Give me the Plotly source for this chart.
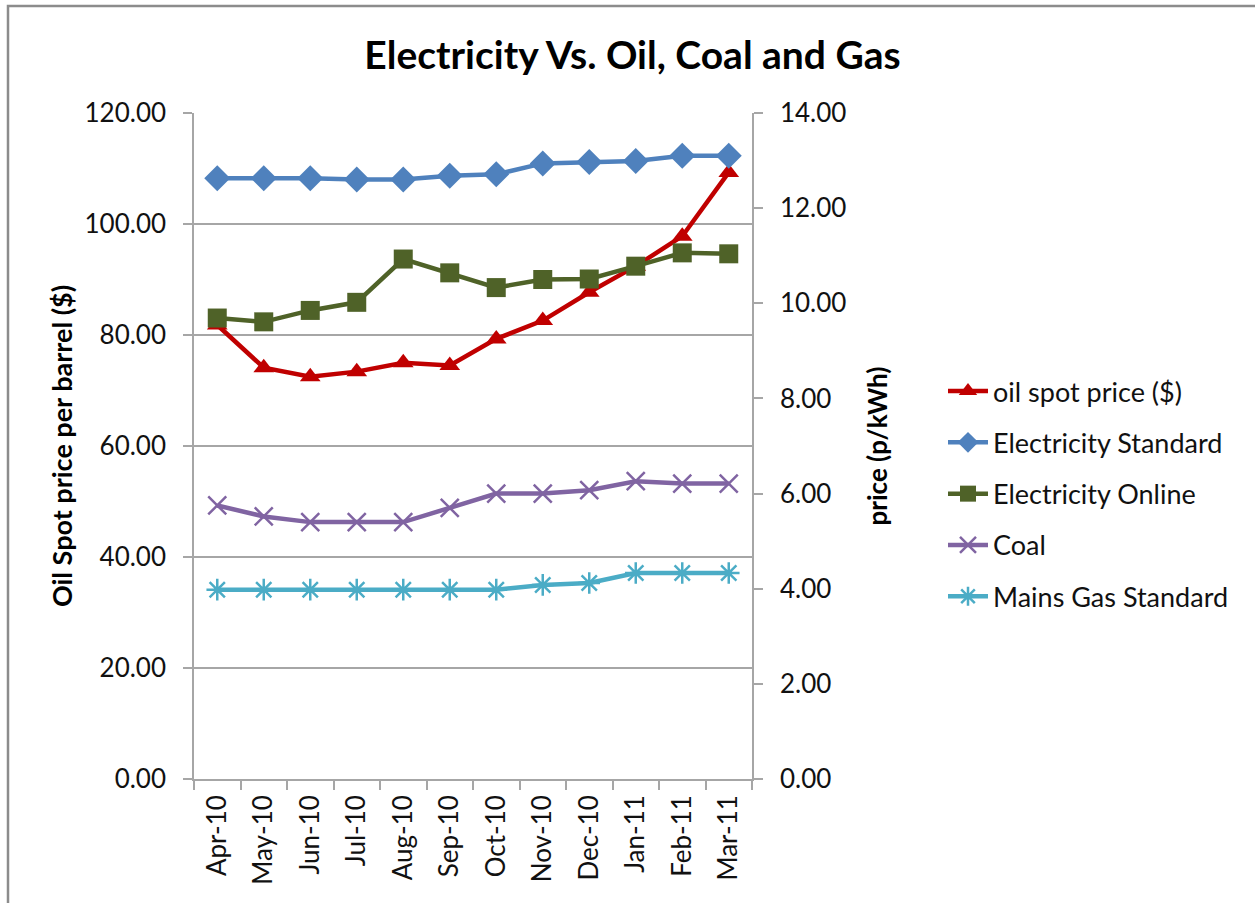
import plotly.graph_objects as go

months = ["Apr-10", "May-10", "Jun-10", "Jul-10", "Aug-10", "Sep-10",
          "Oct-10", "Nov-10", "Dec-10", "Jan-11", "Feb-11", "Mar-11"]

# Oil spot price, $ per barrel (left axis)
oil_spot = [81.8, 74.1, 72.5, 73.4, 75.0, 74.5, 79.3, 82.6, 87.7, 92.4, 97.8, 109.3]

# Prices in p/kWh (right axis)
elec_standard = [12.63, 12.63, 12.63, 12.60, 12.60, 12.68, 12.71, 12.94, 12.97, 12.99, 13.10, 13.10]
elec_online = [9.69, 9.61, 9.85, 10.02, 10.93, 10.64, 10.33, 10.50, 10.51, 10.78, 11.06, 11.04]
coal = [5.75, 5.52, 5.40, 5.40, 5.40, 5.70, 6.00, 6.00, 6.07, 6.26, 6.21, 6.21]
mains_gas = [3.98, 3.98, 3.98, 3.98, 3.98, 3.98, 3.98, 4.08, 4.12, 4.33, 4.33, 4.33]

FONT = "Lato, Calibri, Carlito, sans-serif"
W, H = 1255, 903
L, R, T, B = 194, 503, 113, 124
LW = 4.5

fig = go.Figure()

fig.add_trace(go.Scatter(
    x=months, y=oil_spot, name="oil spot price ($)", mode="lines+markers",
    line=dict(color="#C00000", width=LW),
    marker=dict(symbol="triangle-up", size=18, color="#C00000"),
    legendgroup="a", yaxis="y"))
fig.add_trace(go.Scatter(
    x=months, y=elec_standard, name="Electricity Standard", mode="lines+markers",
    line=dict(color="#4F81BD", width=LW),
    marker=dict(symbol="diamond", size=20, color="#4F81BD"),
    legendgroup="b", yaxis="y2"))
fig.add_trace(go.Scatter(
    x=months, y=elec_online, name="Electricity Online", mode="lines+markers",
    line=dict(color="#4F6228", width=LW),
    marker=dict(symbol="square", size=19, color="#4F6228"),
    legendgroup="c", yaxis="y2"))
fig.add_trace(go.Scatter(
    x=months, y=coal, name="Coal", mode="lines+markers",
    line=dict(color="#8064A2", width=LW),
    marker=dict(symbol="x-thin-open", size=18, color="#8064A2",
                line=dict(color="#8064A2", width=2.5)),
    legendgroup="d", yaxis="y2"))
fig.add_trace(go.Scatter(
    x=months, y=mains_gas, name="Mains Gas Standard", mode="lines+markers",
    line=dict(color="#4BACC6", width=LW),
    marker=dict(symbol="asterisk-open", size=18, color="#4BACC6",
                line=dict(color="#4BACC6", width=2.5)),
    legendgroup="e", yaxis="y2"))

pw = W - L - R
ph = H - T - B

def px_x(p):
    return (p - L) / pw

def px_y(p):
    return (H - B - p) / ph

fig.update_layout(
    width=W, height=H,
    margin=dict(l=L, r=R, t=T, b=B, pad=0),
    paper_bgcolor="white", plot_bgcolor="white",
    font=dict(family=FONT, size=26, color="#111111"),
    title=dict(text="<b>Electricity Vs. Oil, Coal and Gas</b>",
               x=0.504, xanchor="center", y=1 - 55 / H, yanchor="middle",
               font=dict(family=FONT, size=39, color="#000000")),
    showlegend=True,
    legend=dict(x=px_x(943), xanchor="left", y=px_y(367), yanchor="top",
                traceorder="grouped", tracegroupgap=13.2,
                font=dict(family=FONT, size=27, color="#111111"),
                bgcolor="rgba(0,0,0,0)", itemwidth=40),
    xaxis=dict(
        type="category", tickangle=-90, ticks="outside", ticklen=9,
        tickson="boundaries", tickcolor="#A6A6A6", tickwidth=1.5,
        showline=True, linecolor="#A6A6A6", linewidth=1.5,
        showgrid=False, zeroline=False, ticklabelstandoff=4,
        tickfont=dict(family=FONT, size=26, color="#111111"),
        range=[-0.5, 11.5]),
    yaxis=dict(
        range=[0, 120], dtick=20, tickformat=".2f", ticks="outside", ticklen=9,
        tickcolor="#A6A6A6", tickwidth=1.5, ticklabelstandoff=12,
        showline=True, linecolor="#A6A6A6", linewidth=1.5,
        showgrid=True, gridcolor="#A6A6A6", gridwidth=1.5, zeroline=False,
        tickfont=dict(family=FONT, size=26, color="#111111"),
        title=dict(text="<b>Oil Spot price per barrel ($)</b>",
                   font=dict(family=FONT, size=27, color="#000000"),
                   standoff=4)),
    yaxis2=dict(
        range=[0, 14], dtick=2, tickformat=".2f", ticks="outside", ticklen=9,
        tickcolor="#A6A6A6", tickwidth=1.5, ticklabelstandoff=12,
        showline=True, linecolor="#A6A6A6", linewidth=1.5,
        showgrid=False, zeroline=False, overlaying="y", side="right",
        tickfont=dict(family=FONT, size=26, color="#111111"),
        title=dict(text="<b>price (p/kWh)</b>",
                   font=dict(family=FONT, size=26, color="#000000"),
                   standoff=23)),
)

# Chart-area border
fig.add_shape(type="rect", xref="paper", yref="paper",
              x0=px_x(8), x1=px_x(W + 20), y0=px_y(H + 20), y1=px_y(6),
              line=dict(color="#8C8C8C", width=2.5), layer="below")

fig.write_html("out.html")
